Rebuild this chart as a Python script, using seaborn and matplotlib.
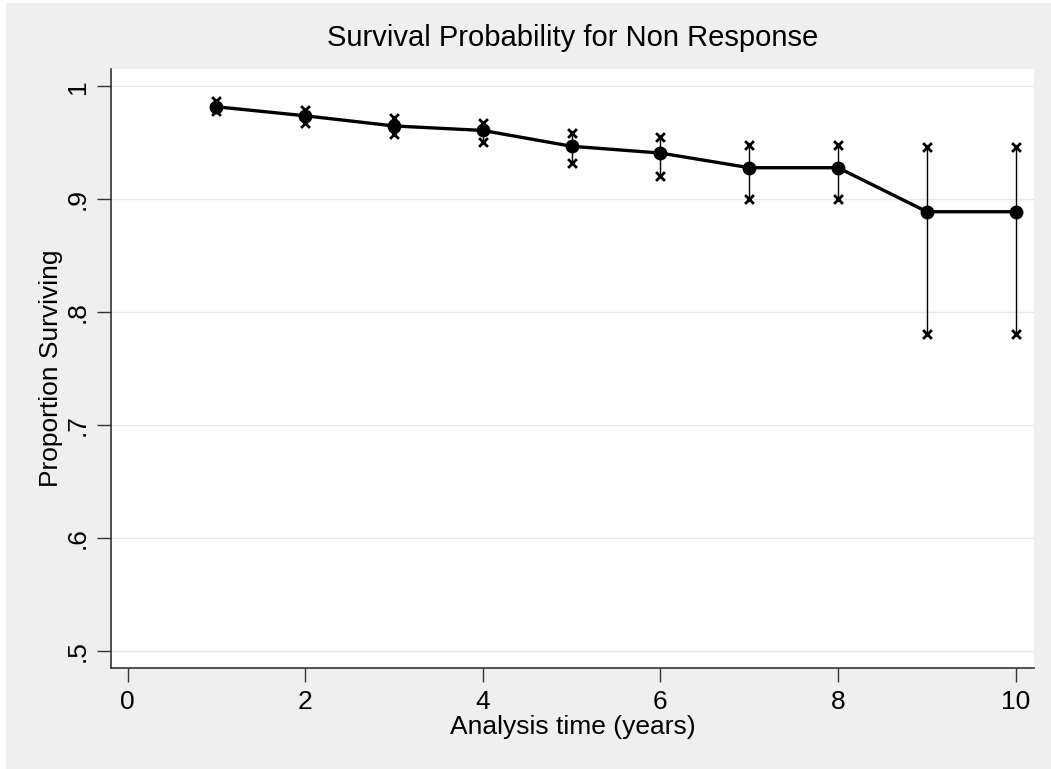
import matplotlib
matplotlib.use("Agg")
import matplotlib.pyplot as plt
import seaborn as sns
import pandas as pd

# --------------------------------------------------
# Data
# --------------------------------------------------
years = [1, 2, 3, 4, 5, 6, 7, 8, 9, 10]
survival = [0.982, 0.974, 0.965, 0.961, 0.947, 0.941, 0.928, 0.928, 0.889, 0.889]
upper_ci = [0.987, 0.979, 0.972, 0.968, 0.959, 0.955, 0.948, 0.948, 0.946, 0.946]
lower_ci = [0.978, 0.968, 0.958, 0.951, 0.932, 0.921, 0.900, 0.900, 0.781, 0.781]

y_ticks = [0.5, 0.6, 0.7, 0.8, 0.9, 1.0]
y_tick_labels = [".5", ".6", ".7", ".8", ".9", "1"]
x_ticks = [0, 2, 4, 6, 8, 10]

df = pd.DataFrame({"years": years, "surv": survival, "lo": lower_ci, "hi": upper_ci})
ci = pd.DataFrame({
    "years": years + years,
    "bound": upper_ci + lower_ci,
})

sns.set_style("white")
plt.rcParams["font.family"] = ["Liberation Sans", "DejaVu Sans"]
plt.rcParams["text.color"] = "black"
plt.rcParams["axes.labelcolor"] = "black"
plt.rcParams["xtick.color"] = "black"
plt.rcParams["ytick.color"] = "black"

bg = "#efefef"
fig = plt.figure(figsize=(10.51, 7.69), dpi=100, facecolor="white")
fig.patches.append(plt.Rectangle((6 / 1051, 0), 1, 1 - 3 / 769, transform=fig.transFigure,
                                 facecolor=bg, edgecolor="none", zorder=-10))
ax = fig.add_axes([0.1053, 0.1317, 0.9838 - 0.1053, 0.9099 - 0.1317])
ax.set_facecolor("white")

# grid lines
for yv in y_ticks:
    ax.axhline(yv, color="#e8e8e8", lw=1, zorder=0)

# confidence interval whiskers
ax.vlines(df["years"], df["lo"], df["hi"], color="black", lw=1, zorder=2)
sns.scatterplot(data=ci, x="years", y="bound", marker="x", color="black",
                s=40, linewidth=2, ax=ax, zorder=3, legend=False)

# survival estimates
sns.lineplot(data=df, x="years", y="surv", color="black", lw=2.4,
             marker="o", markersize=10, markeredgewidth=0, ax=ax, zorder=4)

ax.set_xlim(-0.19, 10.206)
ax.set_ylim(0.485, 1.0152)
ax.set_xticks(x_ticks)
ax.set_yticks(y_ticks)
ax.set_yticklabels(y_tick_labels, rotation=90, va="center")
ax.tick_params(axis="both", direction="out", length=10, width=1, color="#333333",
               labelsize=19, pad=5, left=True, bottom=True)
ax.tick_params(axis="x", pad=6)

for side in ["top", "right"]:
    ax.spines[side].set_visible(False)
for side in ["left", "bottom"]:
    ax.spines[side].set_color("#333333")
    ax.spines[side].set_linewidth(1.2)

ax.set_title("Survival Probability for Non Response", fontsize=21, pad=17)
ax.set_xlabel("Analysis time (years)", fontsize=19, labelpad=1)
ax.set_ylabel("Proportion Surviving", fontsize=19, labelpad=2)

fig.savefig("out.png", dpi=100, facecolor=fig.get_facecolor())
